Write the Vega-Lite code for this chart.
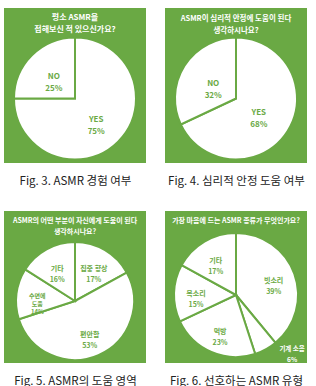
{
  "$schema": "https://vega.github.io/schema/vega-lite/v6.json",
  "background": "white",
  "padding": {"left": 4, "top": 8, "right": 0, "bottom": 0},
  "spacing": 24,
  "config": {
    "view": {"fill": "#6aa944", "stroke": null},
    "font": "Noto Sans CJK KR",
    "axis": {"domain": false, "ticks": false, "labels": false, "grid": false, "titlePadding": 12, "titleFontSize": 11.5, "titleFontWeight": "normal", "titleColor": "#222222", "titleFont": "Noto Sans CJK KR"}
  },
  "datasets": {
    "p1": [
      {"i": 1, "cat": "YES", "value": 75, "label": "YES\n75%"},
      {"i": 2, "cat": "NO", "value": 25, "label": "NO\n25%"}
    ],
    "p2": [
      {"i": 1, "cat": "YES", "value": 68, "label": "YES\n68%"},
      {"i": 2, "cat": "NO", "value": 32, "label": "NO\n32%"}
    ],
    "p3": [
      {"i": 1, "cat": "집중 향상", "value": 17, "label": "집중 향상\n17%"},
      {"i": 2, "cat": "편안함", "value": 53, "label": "편안함\n53%"},
      {"i": 3, "cat": "수면에 도움", "value": 14, "label": "수면에\n도움\n14%"},
      {"i": 4, "cat": "기타", "value": 16, "label": "기타\n16%"}
    ],
    "p4": [
      {"i": 1, "cat": "빗소리", "value": 39, "label": "빗소리\n39%"},
      {"i": 2, "cat": "기계 소음", "value": 6, "label": "기계 소음\n6%"},
      {"i": 3, "cat": "먹방", "value": 23, "label": "먹방\n23%"},
      {"i": 4, "cat": "목소리", "value": 15, "label": "목소리\n15%"},
      {"i": 5, "cat": "기타", "value": 17, "label": "기타\n17%"}
    ]
  },
  "vconcat": [
    {
      "bounds": "flush",
      "hconcat": [
        {
          "width": 142, "height": 155,
          "view": {"fill": "#6aa944", "stroke": null},
          "title": {"text": ["평소 ASMR을", "접해보신 적 있으신가요?"], "orient": "top", "offset": -26, "color": "white", "fontSize": 8, "fontWeight": "bold", "lineHeight": 12},
          "data": {"name": "p1"},
          "layer": [
            {
              "mark": {"type": "rule", "opacity": 0},
              "encoding": {"x": {"field": "value", "type": "quantitative", "axis": {"title": "Fig. 3. ASMR 경험 여부"}}}
            },
            {
              "mark": {"type": "arc", "outerRadius": 61, "fill": "white", "stroke": "#6aa944", "strokeWidth": 2, "yOffset": 13},
              "encoding": {"theta": {"field": "value", "type": "quantitative", "stack": true}, "order": {"field": "i", "type": "quantitative"}}
            },
            {
              "mark": {"type": "text", "radius": 30, "yOffset": 13, "fill": "#6aa944", "fontWeight": "bold", "fontSize": 8, "lineBreak": "\n", "lineHeight": 12},
              "encoding": {"theta": {"field": "value", "type": "quantitative", "stack": true}, "order": {"field": "i", "type": "quantitative"}, "text": {"field": "label"}}
            }
          ]
        },
        {
          "width": 142, "height": 155,
          "view": {"fill": "#6aa944", "stroke": null},
          "title": {"text": ["ASMR이 심리적 안정에 도움이 된다", "생각하시나요?"], "orient": "top", "offset": -26, "color": "white", "fontSize": 7.5, "fontWeight": "bold", "lineHeight": 12},
          "data": {"name": "p2"},
          "layer": [
            {
              "mark": {"type": "rule", "opacity": 0},
              "encoding": {"x": {"field": "value", "type": "quantitative", "axis": {"title": "Fig. 4. 심리적 안정 도움 여부"}}}
            },
            {
              "mark": {"type": "arc", "outerRadius": 61, "fill": "white", "stroke": "#6aa944", "strokeWidth": 2, "yOffset": 13},
              "encoding": {"theta": {"field": "value", "type": "quantitative", "stack": true}, "order": {"field": "i", "type": "quantitative"}}
            },
            {
              "mark": {"type": "text", "radius": 27, "yOffset": 13, "fill": "#6aa944", "fontWeight": "bold", "fontSize": 8, "lineBreak": "\n", "lineHeight": 12},
              "encoding": {"theta": {"field": "value", "type": "quantitative", "stack": true}, "order": {"field": "i", "type": "quantitative"}, "text": {"field": "label"}}
            }
          ]
        }
      ],
      "spacing": 19
    },
    {
      "bounds": "flush",
      "hconcat": [
        {
          "width": 142, "height": 152,
          "view": {"fill": "#6aa944", "stroke": null},
          "title": {"text": ["ASMR의 어떤 부분이 자신에게 도움이 된다", "생각하시나요?"], "orient": "top", "offset": -24, "color": "white", "fontSize": 7, "fontWeight": "bold", "lineHeight": 11},
          "data": {"name": "p3"},
          "layer": [
            {
              "mark": {"type": "rule", "opacity": 0},
              "encoding": {"x": {"field": "value", "type": "quantitative", "axis": {"title": "Fig. 5. ASMR의 도움 영역"}}}
            },
            {
              "mark": {"type": "arc", "outerRadius": 59, "fill": "white", "stroke": "#6aa944", "strokeWidth": 2, "yOffset": 14},
              "encoding": {"theta": {"field": "value", "type": "quantitative", "stack": true}, "order": {"field": "i", "type": "quantitative"}}
            },
            {
              "mark": {"type": "text", "radius": 37, "yOffset": 14, "fill": "#6aa944", "fontWeight": "bold", "fontSize": 7, "lineBreak": "\n", "lineHeight": 11},
              "encoding": {"theta": {"field": "value", "type": "quantitative", "stack": true}, "order": {"field": "i", "type": "quantitative"}, "text": {"condition": {"test": "datum.cat === '수면에 도움'", "value": ""}, "field": "label"}}
            },
            {
              "mark": {"type": "text", "radius": 38, "yOffset": 14, "fill": "#6aa944", "fontWeight": "bold", "fontSize": 6, "lineBreak": "\n", "lineHeight": 8},
              "encoding": {"theta": {"field": "value", "type": "quantitative", "stack": true}, "order": {"field": "i", "type": "quantitative"}, "text": {"condition": {"test": "datum.cat !== '수면에 도움'", "value": ""}, "field": "label"}}
            }
          ]
        },
        {
          "width": 142, "height": 152,
          "view": {"fill": "#6aa944", "stroke": null},
          "title": {"text": "가장 마음에 드는 ASMR 종류가 무엇인가요?", "orient": "top", "offset": -13, "color": "white", "fontSize": 7, "fontWeight": "bold", "lineHeight": 11},
          "data": {"name": "p4"},
          "layer": [
            {
              "mark": {"type": "rule", "opacity": 0},
              "encoding": {"x": {"field": "value", "type": "quantitative", "axis": {"title": "Fig. 6. 선호하는 ASMR 유형"}}}
            },
            {
              "mark": {"type": "arc", "outerRadius": 62, "fill": "white", "stroke": "#6aa944", "strokeWidth": 2, "yOffset": 8},
              "encoding": {"theta": {"field": "value", "type": "quantitative", "stack": true}, "order": {"field": "i", "type": "quantitative"}}
            },
            {
              "mark": {"type": "text", "radius": 40, "yOffset": 8, "fill": "#6aa944", "fontWeight": "bold", "fontSize": 7, "lineBreak": "\n", "lineHeight": 11},
              "encoding": {"theta": {"field": "value", "type": "quantitative", "stack": true}, "order": {"field": "i", "type": "quantitative"}, "text": {"condition": {"test": "datum.cat === '기계 소음'", "value": ""}, "field": "label"}}
            },
            {
              "mark": {"type": "text", "radius": 78, "thetaOffset": -0.3, "yOffset": 8, "fill": "white", "fontWeight": "bold", "fontSize": 6.5, "lineBreak": "\n", "lineHeight": 11},
              "encoding": {"theta": {"field": "value", "type": "quantitative", "stack": true}, "order": {"field": "i", "type": "quantitative"}, "text": {"condition": {"test": "datum.cat !== '기계 소음'", "value": ""}, "field": "label"}}
            }
          ]
        }
      ],
      "spacing": 19
    }
  ]
}
